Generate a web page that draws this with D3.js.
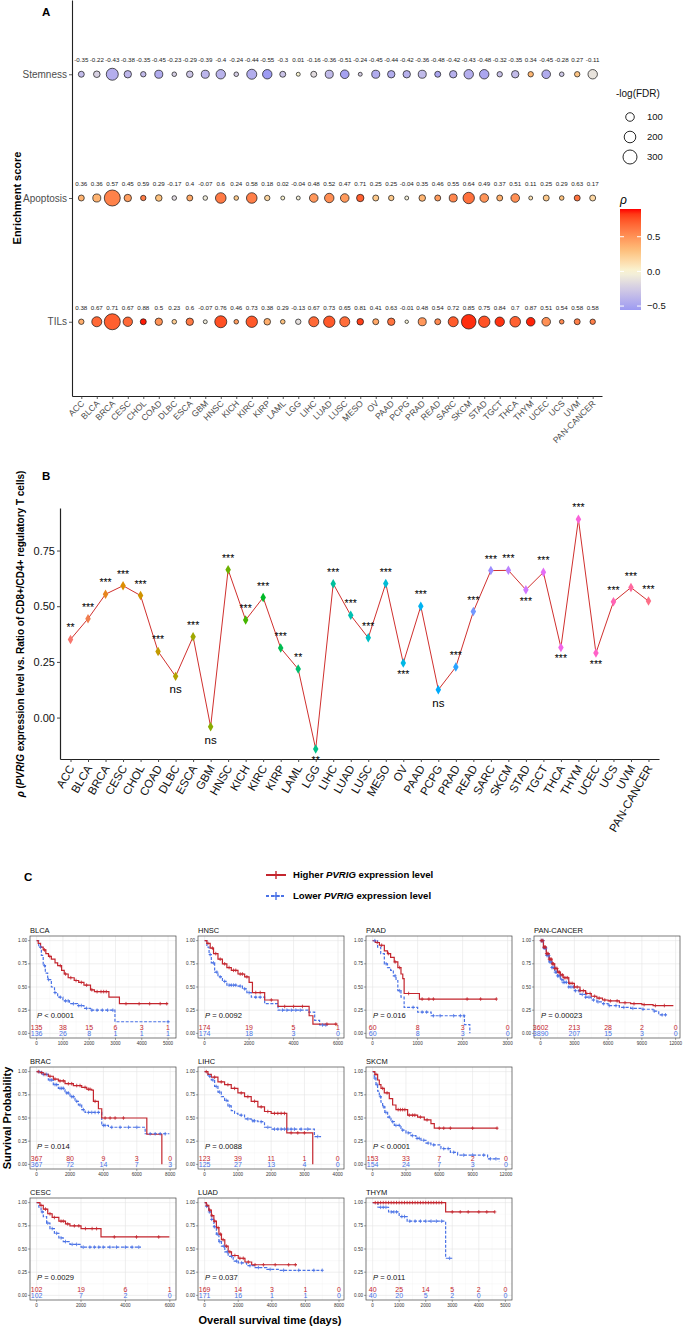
<!DOCTYPE html>
<html><head><meta charset="utf-8">
<script src="https://cdn.jsdelivr.net/npm/d3@7"></script>
<style>body{margin:0;background:#fff}</style>
</head><body>
<svg id="fig" width="685" height="1331" xmlns="http://www.w3.org/2000/svg"></svg>
<script>
// ---------------- DATA ----------------
const cancers = ["ACC","BLCA","BRCA","CESC","CHOL","COAD","DLBC","ESCA","GBM","HNSC","KICH","KIRC","KIRP","LAML","LGG","LIHC","LUAD","LUSC","MESO","OV","PAAD","PCPG","PRAD","READ","SARC","SKCM","STAD","TGCT","THCA","THYM","UCEC","UCS","UVM","PAN-CANCER"];
const scoreRows = ["Stemness","Apoptosis","TILs"];
const rhoStemness = [-0.35,-0.22,-0.43,-0.38,-0.35,-0.45,-0.23,-0.29,-0.39,-0.4,-0.24,-0.44,-0.55,-0.3,0.01,-0.16,-0.36,-0.51,-0.24,-0.45,-0.44,-0.42,-0.36,-0.48,-0.42,-0.43,-0.48,-0.32,-0.35,0.34,-0.45,-0.28,0.27,-0.11];
const rhoApoptosis = [0.36,0.36,0.57,0.45,0.59,0.29,-0.17,0.4,-0.07,0.6,0.24,0.58,0.18,0.02,-0.04,0.48,0.52,0.47,0.71,0.25,0.25,-0.04,0.35,0.46,0.55,0.64,0.49,0.37,0.51,0.11,0.25,0.29,0.63,0.17];
const rhoTILs = [0.38,0.67,0.71,0.67,0.88,0.5,0.23,0.6,-0.07,0.76,0.46,0.73,0.38,0.29,-0.13,0.67,0.73,0.65,0.81,0.41,0.63,-0.01,0.48,0.54,0.72,0.85,0.75,0.84,0.7,0.87,0.51,0.54,0.58,0.58];
const fdrStemness = [39,51,215,70,28,85,15,51,85,125,15,144,125,39,6,39,85,101,6,85,70,70,85,39,70,125,125,28,70,28,101,15,28,125];
const fdrApoptosis = [39,85,398,70,28,51,15,39,15,164,15,164,28,6,6,101,125,101,70,39,28,6,51,39,85,192,101,39,101,6,39,15,39,39];
const fdrTILs = [28,144,398,125,39,70,15,70,6,215,15,192,51,15,28,144,192,144,51,39,70,0,85,39,144,328,192,125,164,101,101,15,39,28];
const sizeBreaks = [100,200,300];
const colorTicks = [-0.5,0,0.5];

const rhoTreg = [0.351,0.444,0.554,0.592,0.548,0.297,0.185,0.363,-0.041,0.664,0.438,0.539,0.312,0.218,-0.141,0.601,0.459,0.358,0.602,0.245,0.50,0.125,0.227,0.476,0.66,0.661,0.574,0.652,0.315,0.89,0.29,0.52,0.584,0.523];
const sigTreg = ["**","***","***","***","***","***","ns","***","ns","***","***","***","***","**","**","***","***","***","***","***","***","ns","***","***","***","***","***","***","***","***","***","***","***","***"];
const sigBelow = ["DLBC","GBM","LGG","OV","PCPG","STAD","THCA","UCEC"];
const rhoTicks = [0,0.25,0.5,0.75];

// Kaplan-Meier panels: [time, survival] steps, censor times, numbers at risk
const kmNames = ["BLCA","HNSC","PAAD","PAN-CANCER","BRAC","LIHC","SKCM","CESC","LUAD","THYM"];
const kmMaxTime = [5050,5970,2950,11800,7950,3990,11950,5980,7900,5000];
const kmTicks = [
  [0,1000,2000,3000,4000,5000],[0,2000,4000,6000],[0,1000,2000,3000],[0,3000,6000,9000,12000],
  [0,2000,4000,6000,8000],[0,1000,2000,3000,4000],[0,3000,6000,9000,12000],
  [0,2000,4000,6000],[0,2000,4000,6000,8000],[0,1000,2000,3000,4000,5000]];
const kmPValues = ["< 0.0001","= 0.0092","= 0.016","= 0.00023","= 0.014","= 0.0088","< 0.0001","= 0.0029","= 0.037","= 0.011"];
const riskHigh = [[135,38,15,6,3,1],[174,19,5,1],[60,8,3,0],[3602,213,28,2,0],[367,80,9,3,0],[123,39,11,1,0],[153,33,7,2,0],[102,19,6,1],[169,14,3,1,0],[40,25,14,5,2,0]];
const riskLow  = [[136,26,8,1,1,1],[174,18,3,0],[60,8,3,0],[3890,207,15,3,0],[367,72,14,7,3],[125,27,13,4,0],[154,24,7,3,0],[102,7,2,0],[171,16,1,1,0],[40,20,5,2,0,0]];

const survHigh = [
 [[0,1],[60,0.97],[150,0.93],[250,0.9],[350,0.86],[450,0.83],[560,0.8],[700,0.76],[800,0.73],[950,0.68],[1050,0.64],[1200,0.6],[1430,0.57],[1600,0.55],[1800,0.52],[2050,0.47],[2200,0.45],[2750,0.39],[3150,0.32],[5000,0.32]],
 [[0,1],[100,0.97],[250,0.92],[400,0.86],[600,0.8],[800,0.75],[1000,0.71],[1200,0.68],[1500,0.64],[1800,0.61],[2000,0.55],[2150,0.44],[2700,0.36],[3300,0.29],[4700,0.19],[4870,0.1],[5970,0.1]],
 [[0,1],[60,0.98],[150,0.95],[260,0.89],[330,0.86],[400,0.82],[480,0.77],[560,0.71],[630,0.64],[670,0.59],[700,0.43],[1040,0.37],[2750,0.37]],
 [[0,1],[250,0.93],[500,0.86],[750,0.8],[1000,0.75],[1250,0.7],[1500,0.66],[1750,0.63],[2000,0.6],[2500,0.54],[3000,0.5],[3500,0.46],[4000,0.43],[4500,0.4],[5000,0.38],[5500,0.36],[6000,0.35],[7000,0.33],[8000,0.32],[9000,0.31],[10000,0.3],[11800,0.3]],
 [[0,1],[200,0.99],[400,0.97],[700,0.95],[1000,0.92],[1300,0.9],[1700,0.87],[2200,0.85],[2700,0.83],[3000,0.81],[3300,0.8],[3400,0.68],[3700,0.6],[3900,0.5],[6600,0.325],[7500,0],[7500,0]],
 [[0,1],[100,0.97],[200,0.94],[400,0.89],[600,0.86],[800,0.82],[1000,0.77],[1200,0.73],[1400,0.68],[1600,0.62],[1800,0.57],[2000,0.55],[2470,0.34],[3250,0],[3250,0]],
 [[0,1],[200,0.97],[450,0.91],[600,0.86],[750,0.82],[1050,0.77],[1500,0.71],[1800,0.64],[2100,0.59],[3150,0.53],[4050,0.51],[4650,0.48],[5250,0.44],[5550,0.39],[11250,0.39]],
 [[0,1],[150,0.97],[300,0.93],[500,0.88],[700,0.84],[1000,0.8],[1300,0.77],[1500,0.75],[2000,0.72],[2900,0.63],[5980,0.63]],
 [[0,1],[100,0.97],[250,0.92],[400,0.86],[550,0.8],[700,0.73],[850,0.66],[1000,0.6],[1200,0.53],[1400,0.47],[1600,0.43],[2000,0.4],[2400,0.36],[2800,0.33],[5500,0.33]],
 [[0,1],[2750,0.9],[4600,0.9]]
];
const survLow = [
 [[0,1],[80,0.93],[180,0.84],[250,0.73],[330,0.65],[420,0.58],[560,0.5],[680,0.44],[800,0.39],[1000,0.35],[1250,0.32],[1550,0.3],[1800,0.27],[2050,0.25],[2980,0.125],[5050,0.125]],
 [[0,1],[100,0.93],[200,0.85],[300,0.76],[450,0.66],[600,0.61],[800,0.56],[1000,0.52],[1500,0.51],[1700,0.48],[1900,0.44],[2100,0.39],[2700,0.32],[3300,0.25],[4650,0.23],[4950,0.14],[5170,0.09],[5550,0.09]],
 [[0,1],[110,0.93],[180,0.86],[260,0.75],[330,0.71],[400,0.68],[460,0.62],[520,0.57],[560,0.46],[630,0.39],[700,0.28],[1000,0.23],[1300,0.19],[2040,0.095],[2160,0],[2160,0]],
 [[0,1],[250,0.92],[500,0.84],[750,0.77],[1000,0.71],[1250,0.66],[1500,0.62],[1750,0.58],[2000,0.55],[2500,0.5],[3000,0.46],[3500,0.42],[4000,0.39],[4500,0.36],[5000,0.34],[5500,0.32],[6000,0.3],[7000,0.28],[8000,0.27],[9000,0.26],[10000,0.24],[10500,0.2],[11200,0.2]],
 [[0,1],[300,0.97],[700,0.91],[1000,0.86],[1300,0.82],[1700,0.77],[2000,0.73],[2300,0.68],[2500,0.64],[2700,0.59],[2900,0.56],[3900,0.42],[4300,0.4],[6500,0.33],[7950,0.33]],
 [[0,1],[100,0.95],[200,0.91],[300,0.84],[400,0.78],[500,0.73],[600,0.69],[700,0.63],[800,0.58],[900,0.55],[1000,0.53],[1200,0.49],[1400,0.47],[1600,0.46],[1800,0.4],[2000,0.38],[3300,0.3],[3500,0.3]],
 [[0,1],[150,0.93],[300,0.86],[450,0.79],[600,0.73],[750,0.67],[900,0.62],[1100,0.56],[1350,0.51],[1650,0.46],[1950,0.42],[2550,0.37],[3000,0.34],[3450,0.31],[3900,0.28],[4350,0.26],[4800,0.23],[5250,0.21],[6150,0.17],[7000,0.13],[7650,0.1],[10350,0.06],[11400,0.03]],
 [[0,1],[100,0.95],[200,0.9],[300,0.85],[450,0.78],[600,0.72],[800,0.67],[1000,0.62],[1200,0.58],[1500,0.55],[2000,0.52],[4700,0.52]],
 [[0,1],[100,0.96],[250,0.9],[400,0.82],[550,0.74],[700,0.66],[850,0.58],[1000,0.53],[1200,0.47],[1400,0.42],[1700,0.37],[2000,0.35],[2500,0.32],[3000,0.3],[3700,0.28],[4500,0.27],[7000,0.27]],
 [[0,1],[200,0.95],[600,0.9],[1000,0.85],[1300,0.8],[2750,0.4],[3000,0.4]]
];
const censHigh = [
 [300,500,900,1100,1300,1500,1700,1900,2100,2300,2450,2550,2650,3400,3900,4300,4700,4950],
 [150,350,500,700,900,1100,1300,1400,1600,1700,1900,2300,2500,3000,3600,4000,4400,5500,5900],
 [100,200,350,500,600,800,1100,1250,1350,2100,2400,2750],
 [50,120,200,280,350,430,520,600,680,770,860,950,1050,1150,1250,1350,1450,1560,1680,1800,1950,2100,2250,2400,2600,2800,3000,3250,3500,3800,4100,4400,4800,5200,5700,6200,6800,7500,8300,9200,10200,11000],
 [100,300,500,800,1100,1400,1600,1900,2100,2400,2600,2900,3100,3200,3500,4100,4400,4700,5200],
 [50,300,500,700,900,1100,1300,1500,1700,1900,2100,2200,2300,2400,2600,2800,3000],
 [300,900,1300,2300,2500,2700,2900,3300,3600,3800,4300,4900,6000,6400,7000,9000,11200],
 [200,400,600,800,1100,1200,1400,1700,1900,2200,2500,2700,3500,4500,5500],
 [150,300,450,600,800,950,1100,1300,1500,1800,2100,2300,2600,3000,3500,4200,5000,5400],
 [100,200,300,400,500,600,700,800,900,1000,1100,1200,1300,1400,1500,1600,1700,1800,1900,2000,2100,2200,2300,2400,2500,2600,3000,3300,3600,4000,4300,4600]
];
const censLow = [
 [150,300,450,700,900,1100,1200,1400,1600,1700,1900,2100,2300,2500,2700,2900,5000],
 [250,400,550,700,900,1100,1200,1300,1400,1600,1800,2000,2300,2500,3500,3700,3900,4100,4300,5300,5450],
 [50,300,500,600,900,1100,1200,1350,1500,1800,1950,2030],
 [60,140,220,300,380,460,550,640,730,820,910,1000,1100,1200,1300,1400,1500,1620,1740,1870,2000,2150,2300,2500,2700,2900,3100,3400,3700,4000,4300,4700,5100,5600,6100,6700,7400,8200,9100,10100,10800,11100],
 [150,400,600,800,900,1100,1200,1400,1500,1600,1800,1900,2100,2200,2400,2600,2800,3100,3300,3500,3700,4000,4100,4500,5000,5500,6000,6800,7100,7400,7700],
 [150,250,350,450,650,750,1100,1300,1450,1500,1700,1900,2100,2200,2300,2400,2500,2600,2700,2900,3100,3400],
 [200,400,700,1000,1200,1500,1800,2100,2400,2700,3200,3600,4000,4200,4600,5000,5500,6400,6800,7300,8200,9000,10000,10600,11100],
 [250,500,700,900,1100,1300,1600,1800,2100,2400,2600,2800,3000,3300,3600,4000,4300,4600],
 [120,280,420,580,750,900,1150,1350,1600,1900,2200,2700,3200,3900,4700,5600,6500,7000],
 [300,400,500,700,800,900,1100,1200,1400,1600,1800,2000,2200,2400,2600,2900]
];

// ---------------- DRAWING ----------------
const FONT = "'Liberation Sans', Arial, Helvetica, sans-serif";
const svg = d3.select("#fig").style("font-family", FONT);
svg.append("rect").attr("width",685).attr("height",1331).attr("fill","#fff");

// ===== Panel A =====
const xA = d3.scalePoint().domain(cancers).range([72, 602]).padding(0.6);
const yA = d3.scalePoint().domain(scoreRows).range([0, 396]).padding(0.6);
const areaScale = d3.scaleLinear().domain([0,300]).range([3,49]);
const rScale = v => Math.sqrt(Math.max(1, areaScale(v)));
const colorScale = d3.scaleLinear()
  .domain([-0.557, 0, 0.3, 0.6, 0.9])
  .range(["#9c9af2","#f9f6d6","#fdc07c","#ff7a45","#ff0000"])
  .interpolate(d3.interpolateLab).clamp(true);

const gA = svg.append("g");
const axA_L = gA.append("g").attr("transform","translate(72,0)")
  .call(d3.axisLeft(yA).tickSize(3).tickSizeOuter(0));
const axA_B = gA.append("g").attr("transform","translate(0,396)")
  .call(d3.axisBottom(xA).tickSize(3).tickSizeOuter(0));
[axA_L, axA_B].forEach(a => {
  a.select(".domain").attr("stroke","#222").attr("stroke-width",1.1);
  a.selectAll(".tick line").attr("stroke","#333").attr("stroke-width",0.8);
});
axA_L.selectAll(".tick text").attr("font-size",10).attr("fill","#4d4d4d").attr("font-family",FONT).attr("x",-5);
axA_B.selectAll(".tick text").attr("font-size",8.6).attr("fill","#4d4d4d").attr("font-family",FONT)
  .attr("text-anchor","end").attr("dy",0).attr("y",0)
  .attr("transform","translate(3,8) rotate(-45)");

const rowsData = [];
const rowVals = {Stemness:[rhoStemness,fdrStemness],Apoptosis:[rhoApoptosis,fdrApoptosis],TILs:[rhoTILs,fdrTILs]};
scoreRows.forEach(r => cancers.forEach((c,i) => rowsData.push({c, r, rho: rowVals[r][0][i], fdr: rowVals[r][1][i]})));
gA.selectAll("circle.pt").data(rowsData).join("circle")
  .attr("cx", d => xA(d.c)).attr("cy", d => yA(d.r))
  .attr("r", d => rScale(d.fdr))
  .attr("fill", d => colorScale(d.rho)).attr("stroke","#111").attr("stroke-width",0.7);
gA.selectAll("text.lab").data(rowsData).join("text")
  .attr("x", d => xA(d.c)).attr("y", d => yA(d.r) - 12)
  .attr("text-anchor","middle").attr("font-size",6.2).attr("fill","#222")
  .text(d => String(d.rho));

svg.append("text").attr("x",42).attr("y",16).attr("font-size",11.5).attr("font-weight","bold").text("A");
svg.append("text").attr("transform","translate(21,198) rotate(-90)").attr("text-anchor","middle")
  .attr("font-size",11).attr("font-weight","bold").text("Enrichment score");

// legends A
svg.append("text").attr("x",616).attr("y",97).attr("font-size",10).attr("fill","#111").text("-log(FDR)");
sizeBreaks.forEach((b,i) => {
  const cy = 117 + i*20;
  svg.append("circle").attr("cx",630).attr("cy",cy).attr("r",rScale(b)).attr("fill","none").attr("stroke","#111").attr("stroke-width",0.9);
  svg.append("text").attr("x",647).attr("y",cy).attr("dy","0.35em").attr("font-size",9.5).attr("fill","#111").text(b);
});
svg.append("text").attr("x",620).attr("y",204).attr("font-size",12).attr("font-style","italic").text("ρ");
const cbTop = 209, cbBot = 310;
const cbScale = d3.scaleLinear().domain([0.9,-0.557]).range([cbTop,cbBot]);
const defs = svg.append("defs");
const grad = defs.append("linearGradient").attr("id","cbgrad").attr("x1",0).attr("y1",0).attr("x2",0).attr("y2",1);
d3.range(0,1.0001,0.05).forEach(f => grad.append("stop").attr("offset",f).attr("stop-color",colorScale(0.9 - f*(0.9+0.557))));
svg.append("rect").attr("x",620).attr("y",cbTop).attr("width",21).attr("height",cbBot-cbTop).attr("fill","url(#cbgrad)");
colorTicks.forEach(t => {
  const yy = cbScale(t);
  svg.append("line").attr("x1",620).attr("x2",624).attr("y1",yy).attr("y2",yy).attr("stroke","#fff").attr("stroke-width",1);
  svg.append("line").attr("x1",637).attr("x2",641).attr("y1",yy).attr("y2",yy).attr("stroke","#fff").attr("stroke-width",1);
  svg.append("text").attr("x",647).attr("y",yy).attr("dy","0.35em").attr("font-size",9.5).attr("fill","#111").text(d3.format(".1f")(t));
});

// ===== Panel B =====
function hueColor(h) { // R hcl(h, c=100, l=65), polar LUV -> sRGB
  const L = 65, C = 100, hr = h*Math.PI/180;
  const u = C*Math.cos(hr), v = C*Math.sin(hr);
  const Xn = 95.047, Yn = 100, Zn = 108.883;
  const un = 4*Xn/(Xn+15*Yn+3*Zn), vn = 9*Yn/(Xn+15*Yn+3*Zn);
  const Y = Yn*Math.pow((L+16)/116,3);
  const up = u/(13*L)+un, vp = v/(13*L)+vn;
  const X = Y*9*up/(4*vp), Z = Y*(12-3*up-20*vp)/(4*vp);
  const x = X/100, y = Y/100, z = Z/100;
  let r = 3.2404542*x - 1.5371385*y - 0.4985314*z;
  let g = -0.9692660*x + 1.8760108*y + 0.0415560*z;
  let b = 0.0556434*x - 0.2040259*y + 1.0572252*z;
  const gam = c => { c = c <= 0.0031308 ? 12.92*c : 1.055*Math.pow(c,1/2.4)-0.055; return Math.round(255*Math.max(0,Math.min(1,c))); };
  return d3.rgb(gam(r),gam(g),gam(b)).formatHex();
}
const nC = cancers.length;
const hueColors = cancers.map((c,i) => hueColor(15 + 360*i/nC));
const xB = d3.scalePoint().domain(cancers).range([60, 659]).padding(0.6);
const yB = d3.scaleLinear().domain([-0.186, 0.941]).range([759, 508]);
const gB = svg.append("g");
const axB_L = gB.append("g").attr("transform","translate(60,0)")
  .call(d3.axisLeft(yB).tickValues(rhoTicks).tickFormat(d3.format(".2f")).tickSize(3).tickSizeOuter(0));
const axB_B = gB.append("g").attr("transform","translate(0,759)")
  .call(d3.axisBottom(xB).tickSize(3).tickSizeOuter(0));
[axB_L, axB_B].forEach(a => {
  a.select(".domain").attr("stroke","#222").attr("stroke-width",1.2);
  a.selectAll(".tick line").attr("stroke","#333").attr("stroke-width",0.9);
});
axB_L.selectAll(".tick text").attr("font-size",11).attr("fill","#111").attr("font-family",FONT).attr("x",-5);
axB_B.selectAll(".tick text").attr("font-size",11.5).attr("fill","#111").attr("font-family",FONT)
  .attr("text-anchor","end").attr("dy",0).attr("y",0)
  .attr("transform","translate(4,9) rotate(-60)");
const ptsB = cancers.map((c,i) => ({c, v: rhoTreg[i], s: sigTreg[i], col: hueColors[i]}));
gB.append("path").datum(ptsB)
  .attr("d", d3.line().x(d => xB(d.c)).y(d => yB(d.v)))
  .attr("fill","none").attr("stroke","#d0302e").attr("stroke-width",1);
gB.selectAll("path.sym").data(ptsB).join("path")
  .attr("transform", d => `translate(${xB(d.c)},${yB(d.v)})`)
  .attr("d", d3.symbol(d3.symbolDiamond, 26)).attr("fill", d => d.col);
gB.selectAll("text.sig").data(ptsB).join("text")
  .attr("x", d => xB(d.c))
  .attr("y", d => sigBelow.includes(d.c) ? yB(d.v) + (d.s === "ns" ? 17 : 15) : yB(d.v) - 8)
  .attr("text-anchor","middle")
  .attr("font-size", d => d.s === "ns" ? 11.5 : 10.5)
  .attr("fill","#000")
  .text(d => d.s);
svg.append("text").attr("x",42).attr("y",480).attr("font-size",11.5).attr("font-weight","bold").text("B");
const yt = svg.append("text").attr("transform","translate(24,634) rotate(-90)").attr("text-anchor","middle")
  .attr("font-size",10).attr("font-weight","bold");
yt.append("tspan").attr("font-style","italic").text("ρ");
yt.append("tspan").text(" (");
yt.append("tspan").attr("font-style","italic").text("PVRIG");
yt.append("tspan").text(" expression level vs. Ratio of CD8+/CD4+ regulatory T cells)");

// ===== Panel C =====
const RED = "#c4262e", BLUE = "#4a72e6";
svg.append("text").attr("x",24).attr("y",881).attr("font-size",11.5).attr("font-weight","bold").text("C");
[["Higher", RED, null, 875], ["Lower", BLUE, "3,2", 896]].forEach(([w,col,dash,yy]) => {
  svg.append("line").attr("x1",266).attr("x2",286).attr("y1",yy).attr("y2",yy).attr("stroke",col).attr("stroke-width",2).attr("stroke-dasharray",dash);
  svg.append("path").attr("d",`M276,${yy-4}V${yy+4}M272,${yy}H280`).attr("stroke",col).attr("stroke-width",1.4);
  const t = svg.append("text").attr("x",293).attr("y",yy).attr("dy","0.35em").attr("font-size",9.6).attr("font-weight","bold");
  t.append("tspan").text(w + " ");
  t.append("tspan").attr("font-style","italic").text("PVRIG");
  t.append("tspan").text(" expression level");
});

const colLeft = [30, 198, 366, 534];
const rowTop = [936, 1067, 1198];
const panelPos = [[0,0],[0,1],[0,2],[0,3],[1,0],[1,1],[1,2],[2,0],[2,1],[2,2]];
function survAt(steps, t) {
  let s = 1;
  for (const [tt, ss] of steps) { if (tt <= t) s = ss; else break; }
  return s;
}
function drawKM(i) {
  const [ri, ci] = panelPos[i];
  const left = colLeft[ci], top = rowTop[ri], W = 146, H = 102;
  const T = kmMaxTime[i];
  const x = d3.scaleLinear().domain([-0.05*T, 1.05*T]).range([left, left+W]);
  const y = d3.scaleLinear().domain([-0.05, 1.05]).range([top+H, top]);
  const g = svg.append("g");
  const ticks = kmTicks[i];
  const st = ticks[1]-ticks[0];
  const xDom = x.domain();
  const minorX = d3.range(-st/2, xDom[1], st).filter(t => t > xDom[0] && t < xDom[1]);
  const yMaj = [0,0.25,0.5,0.75,1], yMin = [0.125,0.375,0.625,0.875];
  g.selectAll("line.mnx").data(minorX).join("line").attr("x1",x).attr("x2",x).attr("y1",top).attr("y2",top+H).attr("stroke","#f2f2f2").attr("stroke-width",0.4);
  g.selectAll("line.mny").data(yMin).join("line").attr("y1",y).attr("y2",y).attr("x1",left).attr("x2",left+W).attr("stroke","#f2f2f2").attr("stroke-width",0.4);
  g.selectAll("line.mjx").data(ticks.filter(t => t <= xDom[1])).join("line").attr("x1",x).attr("x2",x).attr("y1",top).attr("y2",top+H).attr("stroke","#e4e4e4").attr("stroke-width",0.6);
  g.selectAll("line.mjy").data(yMaj).join("line").attr("y1",y).attr("y2",y).attr("x1",left).attr("x2",left+W).attr("stroke","#e4e4e4").attr("stroke-width",0.6);
  const line = d3.line().x(d => x(d[0])).y(d => y(d[1])).curve(d3.curveStepAfter);
  g.append("path").attr("d", line(survLow[i])).attr("fill","none").attr("stroke",BLUE).attr("stroke-width",1.2).attr("stroke-dasharray","3,1.6");
  g.append("path").attr("d", line(survHigh[i])).attr("fill","none").attr("stroke",RED).attr("stroke-width",1.2);
  const cross = (t, steps, col) => {
    const cx = x(t), cy = y(survAt(steps, t));
    g.append("path").attr("d",`M${cx-1.6},${cy}H${cx+1.6}M${cx},${cy-1.8}V${cy+1.8}`).attr("stroke",col).attr("stroke-width",0.8);
  };
  censLow[i].forEach(t => cross(t, survLow[i], BLUE));
  censHigh[i].forEach(t => cross(t, survHigh[i], RED));
  g.append("rect").attr("x",left).attr("y",top).attr("width",W).attr("height",H).attr("fill","none").attr("stroke","#444").attr("stroke-width",0.7);
  ticks.forEach(t => {
    g.append("line").attr("x1",x(t)).attr("x2",x(t)).attr("y1",top+H).attr("y2",top+H+2).attr("stroke","#444").attr("stroke-width",0.5);
    g.append("text").attr("x",x(t)).attr("y",top+H+7).attr("text-anchor","middle").attr("font-size",4.6).attr("fill","#333").text(t);
  });
  yMaj.forEach(v => {
    g.append("line").attr("x1",left-2).attr("x2",left).attr("y1",y(v)).attr("y2",y(v)).attr("stroke","#444").attr("stroke-width",0.5);
    g.append("text").attr("x",left-3).attr("y",y(v)).attr("dy","0.35em").attr("text-anchor","end").attr("font-size",4.6).attr("fill","#333").text(d3.format(".2f")(v));
  });
  g.append("text").attr("x",left).attr("y",top-3).attr("font-size",7.5).attr("fill","#111").text(kmNames[i]);
  const p = g.append("text").attr("x",left+7).attr("y",y(0.19)).attr("dy","0.35em").attr("font-size",7.6).attr("fill","#111");
  p.append("tspan").attr("font-style","italic").text("P");
  p.append("tspan").text(" " + kmPValues[i]);
  ticks.forEach((t,k) => {
    g.append("text").attr("x",x(t)).attr("y",y(0.065)).attr("dy","0.35em").attr("text-anchor","middle").attr("font-size",7).attr("fill",RED).text(riskHigh[i][k]);
    g.append("text").attr("x",x(t)).attr("y",y(0.0)).attr("dy","0.35em").attr("text-anchor","middle").attr("font-size",7).attr("fill",BLUE).text(riskLow[i][k]);
  });
}
kmNames.forEach((n,i) => drawKM(i));
svg.append("text").attr("transform","translate(11,1118) rotate(-90)").attr("text-anchor","middle")
  .attr("font-size",11).attr("font-weight","bold").text("Survival Probability");
svg.append("text").attr("x",270).attr("y",1324).attr("text-anchor","middle")
  .attr("font-size",11).attr("font-weight","bold").text("Overall survival time (days)");
</script>
</body></html>
